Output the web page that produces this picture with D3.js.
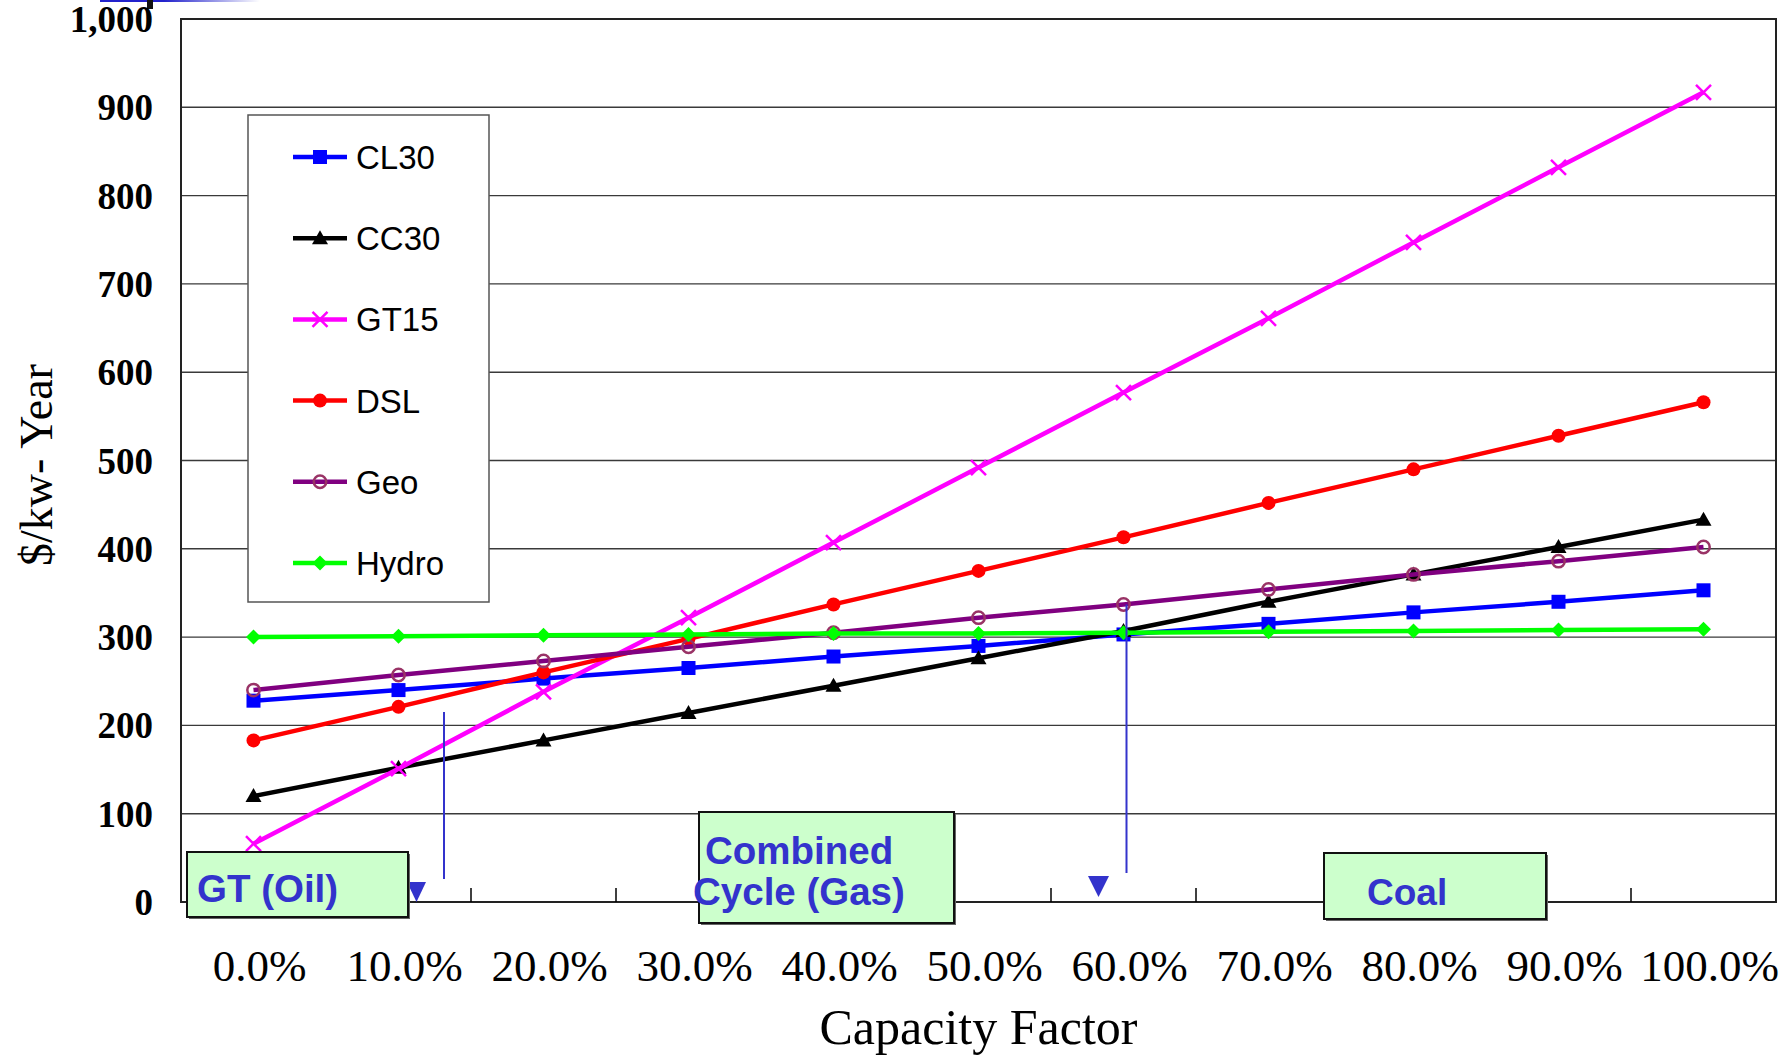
<!DOCTYPE html>
<html><head><meta charset="utf-8">
<script src="https://cdn.jsdelivr.net/npm/d3@7"></script>
<style>body{margin:0;background:#fff;}svg{display:block;}</style>
</head><body>
<svg id="c" width="1788" height="1057"></svg>
<script>
const categories = ["0.0%","10.0%","20.0%","30.0%","40.0%","50.0%","60.0%","70.0%","80.0%","90.0%","100.0%"];
const CL30  = [228,240,253,265,278,290,303,315,328,340,353];
const CC30  = [120,152,183,214,245,276,307,340,371,402,433];
const GT15  = [66,151,238,322,407,492,577,661,747,832,917];
const DSL   = [183,221,260,298,337,375,413,452,490,528,566];
const Geo   = [240,257,273,289,305,322,337,354,371,386,402];
const Hydro = [300,301,302,303,304,304,305,306,307,308,309];
const yTicks = [0,100,200,300,400,500,600,700,800,900,1000];
const seriesNames = ["CL30","CC30","GT15","DSL","Geo","Hydro"];
const seriesValues = [CL30,CC30,GT15,DSL,Geo,Hydro];
const annotations = [
  {lines:["GT (Oil)"]},
  {lines:["Combined","Cycle (Gas)"]},
  {lines:["Coal"]}
];

const styles = {
  CL30:{color:"#0000FF", marker:"square"},
  CC30:{color:"#000000", marker:"triangle"},
  GT15:{color:"#FF00FF", marker:"cross"},
  DSL:{color:"#FF0000", marker:"circle"},
  Geo:{color:"#800080", marker:"ocircle", mstroke:"#993366"},
  Hydro:{color:"#00FF00", marker:"diamond"}
};

const svg = d3.select("#c");
const L=181, R=1776, T=19, B=902;
const x = d3.scaleBand().domain(categories).range([L,R]).padding(0);
const cx = c => x(c) + x.bandwidth()/2;
const y = d3.scaleLinear().domain([0,1000]).range([B,T]);

// top-left artifact
const defs = svg.append("defs");
const lg = defs.append("linearGradient").attr("id","fade");
lg.append("stop").attr("offset","0").attr("stop-color","#2222cc");
lg.append("stop").attr("offset","0.4").attr("stop-color","#2222cc");
lg.append("stop").attr("offset","1").attr("stop-color","#ffffff");
svg.append("rect").attr("x",100).attr("y",0).attr("width",160).attr("height",2).attr("fill","url(#fade)");
svg.append("rect").attr("x",147).attr("y",0).attr("width",6).attr("height",9).attr("fill","#111");

// gridlines
svg.append("g").selectAll("line").data(yTicks.filter(d=>d>0)).join("line")
  .attr("x1",L).attr("x2",R).attr("y1",d=>y(d)).attr("y2",d=>y(d))
  .attr("stroke","#3a3a3a").attr("stroke-width",1.4);

// y axis
const yAxis = d3.axisLeft(y).tickValues(yTicks).tickSize(0).tickPadding(28)
  .tickFormat(d3.format(","));
const yg = svg.append("g").attr("transform",`translate(${L},0)`).call(yAxis);
yg.select(".domain").remove();
yg.selectAll("text").attr("font-family","'Liberation Serif','Times New Roman',serif")
  .attr("font-weight","bold").attr("font-size",37).attr("fill","#000").attr("dy","0.34em");

// plot border
svg.append("rect").attr("x",L).attr("y",T).attr("width",R-L).attr("height",B-T)
  .attr("fill","none").attr("stroke","#222").attr("stroke-width",2);

// x ticks (between categories, inward)
svg.append("g").selectAll("line").data(categories.slice(1)).join("line")
  .attr("x1",d=>x(d)).attr("x2",d=>x(d)).attr("y1",B).attr("y2",B-14)
  .attr("stroke","#000").attr("stroke-width",1.5);

// x labels
const xAxis = d3.axisBottom(x).tickSize(0).tickPadding(47);
const xg = svg.append("g").attr("transform",`translate(6,${B})`).call(xAxis);
xg.select(".domain").remove();
xg.selectAll("text").attr("font-family","'Liberation Serif','Times New Roman',serif")
  .attr("font-size",45).attr("fill","#000");

// axis titles
svg.append("text").attr("x",(L+R)/2).attr("y",1044).attr("text-anchor","middle")
  .attr("font-family","'Liberation Serif','Times New Roman',serif").attr("font-size",50)
  .text("Capacity Factor");
svg.append("text").attr("transform",`translate(52,465) rotate(-90)`).attr("text-anchor","middle")
  .attr("font-family","'Liberation Serif','Times New Roman',serif").attr("font-size",46)
  .text("$/kw- Year");

// series
const line = d3.line().x((d,i)=>cx(categories[i])).y(d=>y(d));
function drawMarker(g, type, color, mstroke, px, py){
  const s = 7;
  if(type==="square") g.append("rect").attr("x",px-s).attr("y",py-s).attr("width",2*s).attr("height",2*s).attr("fill",color);
  else if(type==="triangle") g.append("path").attr("d",`M${px},${py-8}L${px+8},${py+6}L${px-8},${py+6}Z`).attr("fill",color);
  else if(type==="cross") g.append("path").attr("d",`M${px-7.5},${py-7.5}L${px+7.5},${py+7.5}M${px+7.5},${py-7.5}L${px-7.5},${py+7.5}`).attr("stroke",color).attr("stroke-width",2.5);
  else if(type==="circle") g.append("circle").attr("cx",px).attr("cy",py).attr("r",7).attr("fill",color);
  else if(type==="ocircle") g.append("circle").attr("cx",px).attr("cy",py).attr("r",6.2).attr("fill","none").attr("stroke",mstroke).attr("stroke-width",2.5);
  else if(type==="diamond") g.append("path").attr("d",`M${px},${py-7.5}L${px+7.5},${py}L${px},${py+7.5}L${px-7.5},${py}Z`).attr("fill",color);
}
seriesNames.forEach((name,si)=>{
  const st = styles[name];
  const g = svg.append("g");
  g.append("path").datum(seriesValues[si]).attr("d",line).attr("fill","none")
    .attr("stroke",st.color).attr("stroke-width",4.5).attr("stroke-linejoin","round");
  seriesValues[si].forEach((v,i)=>drawMarker(g, st.marker, st.color, st.mstroke, cx(categories[i]), y(v)));
});

// legend
const lgx=248, lgy=115, lgw=241, lgh=487;
svg.append("rect").attr("x",lgx).attr("y",lgy).attr("width",lgw).attr("height",lgh)
  .attr("fill","#fff").attr("stroke","#555").attr("stroke-width",1.5);
seriesNames.forEach((name,i)=>{
  const st = styles[name];
  const yy = 157 + i*81.2;
  const g = svg.append("g");
  g.append("line").attr("x1",293).attr("x2",347).attr("y1",yy).attr("y2",yy).attr("stroke",st.color).attr("stroke-width",4.5);
  drawMarker(g, st.marker, st.color, st.mstroke, 320, yy);
  g.append("text").attr("x",356).attr("y",yy+12).attr("font-family","'Liberation Sans',Arial,sans-serif")
    .attr("font-size",33).attr("fill","#000").text(name);
});

// annotation vertical lines and triangles
const blue = "#3333CC";
svg.append("line").attr("x1",x("20.0%")-27).attr("x2",x("20.0%")-27)
  .attr("y1",712).attr("y2",879).attr("stroke",blue).attr("stroke-width",2);
svg.append("line").attr("x1",cx("60.0%")+3).attr("x2",cx("60.0%")+3)
  .attr("y1",y(Geo[6])).attr("y2",873).attr("stroke",blue).attr("stroke-width",2);
svg.append("path").attr("d","M407,882L426,882L416.5,902Z").attr("fill",blue);
svg.append("path").attr("d","M1088,876L1109,876L1098.5,897Z").attr("fill",blue);

// annotation boxes
const boxes = [
  {lines:annotations[0].lines, x:187, y:852, w:221, h:65, tx:[197], ty:[902], fs:38.5},
  {lines:annotations[1].lines, x:699, y:812, w:255, h:111, tx:[705,693], ty:[864,905], fs:38.5},
  {lines:annotations[2].lines, x:1324, y:853, w:222, h:66, tx:[1367], ty:[905], fs:37}
];
boxes.forEach(b=>{
  svg.append("rect").attr("x",b.x+2).attr("y",b.y+2).attr("width",b.w).attr("height",b.h).attr("fill","#666");
  svg.append("rect").attr("x",b.x).attr("y",b.y).attr("width",b.w).attr("height",b.h)
    .attr("fill","#CCFFCC").attr("stroke","#111").attr("stroke-width",2);
  b.lines.forEach((t,i)=>{
    svg.append("text").attr("x",b.tx[i]).attr("y",b.ty[i]).attr("font-family","'Liberation Sans',Arial,sans-serif")
      .attr("font-weight","bold").attr("font-size",b.fs).attr("fill",blue).text(t);
  });
});
</script>
</body></html>
